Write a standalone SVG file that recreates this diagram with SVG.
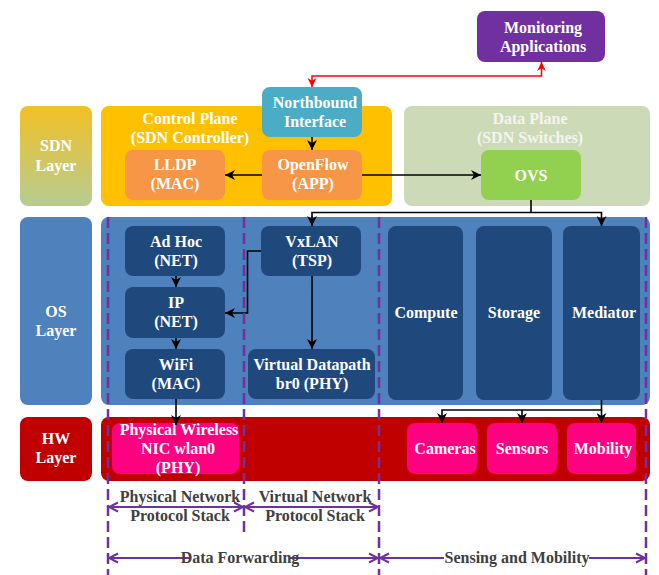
<svg xmlns="http://www.w3.org/2000/svg" width="659" height="575" viewBox="0 0 659 575">
  <defs>
    <linearGradient id="sdnGrad" x1="0" y1="0" x2="0" y2="1">
      <stop offset="0" stop-color="#F1C024"/>
      <stop offset="1" stop-color="#B7CC93"/>
    </linearGradient>
    <marker id="arrBlack" viewBox="0 0 10 10" refX="10" refY="5" markerWidth="10" markerHeight="10" markerUnits="userSpaceOnUse" orient="auto-start-reverse">
      <path d="M0,0 L10,5 L0,10 L3,5 z" fill="#000"/>
    </marker>
    <marker id="arrRed" viewBox="0 0 10 10" refX="10" refY="5" markerWidth="9" markerHeight="9" markerUnits="userSpaceOnUse" orient="auto-start-reverse">
      <path d="M0,0 L10,5 L0,10 L3,5 z" fill="#FF0000"/>
    </marker>
    <marker id="arrPurple" viewBox="-1 -1 12 12" refX="10" refY="5" markerWidth="12" markerHeight="12" markerUnits="userSpaceOnUse" orient="auto-start-reverse">
      <path d="M1,0.5 L10,5 L1,9.5" fill="none" stroke="#7030A0" stroke-width="2"/>
    </marker>
  </defs>
  <style>
    text { font-family: "Liberation Serif", "Times New Roman", serif; font-weight: bold; font-size: 16px; text-anchor: middle; }
    .w { fill: #FFFFFF; }
    .dim { fill: #404040; }
    .dp { fill: #F4F4EE; }
    .conn { fill: none; stroke: #000; stroke-width: 1.6; }
    .red { fill: none; stroke: #FF0000; stroke-width: 1.5; }
    .dash { fill: none; stroke: #7030A0; stroke-width: 2.5; stroke-dasharray: 11 5; }
    .span { fill: none; stroke: #7030A0; stroke-width: 2; }
  </style>

  <!-- layer labels -->
  <g id="sdn-layer">
    <rect x="20" y="106" width="72" height="100" rx="8" fill="url(#sdnGrad)"/>
    <text class="w" x="56" y="151">SDN</text>
    <text class="w" x="56" y="171">Layer</text>
  </g>
  <g id="os-layer">
    <rect x="20" y="217" width="72" height="188" rx="8" fill="#4F81BD"/>
    <text class="w" x="56" y="317">OS</text>
    <text class="w" x="56" y="336">Layer</text>
  </g>
  <g id="hw-layer">
    <rect x="20" y="417" width="72" height="64" rx="8" fill="#C00000"/>
    <text class="w" x="56" y="444">HW</text>
    <text class="w" x="56" y="463">Layer</text>
  </g>

  <!-- SDN layer panels -->
  <g id="control-plane">
    <rect x="101" y="106" width="291" height="100" rx="8" fill="#FFC000"/>
    <text class="w" x="190" y="124">Control Plane</text>
    <text class="w" x="190" y="143">(SDN Controller)</text>
  </g>
  <g id="data-plane">
    <rect x="404" y="106" width="246" height="100" rx="8" fill="#CDDAB8"/>
    <text class="dp" x="530" y="124">Data Plane</text>
    <text class="dp" x="530" y="143">(SDN Switches)</text>
  </g>
  <g id="monitoring-applications">
    <rect x="477" y="11" width="128" height="51" rx="8" fill="#7030A0"/>
    <text class="w" x="543" y="33">Monitoring</text>
    <text class="w" x="543" y="52">Applications</text>
  </g>
  <g id="northbound-interface">
    <rect x="262" y="87" width="100" height="50" rx="8" fill="#4BACC6"/>
    <text class="w" x="315" y="108">Northbound</text>
    <text class="w" x="315" y="127">Interface</text>
  </g>
  <g id="lldp">
    <rect x="125" y="150" width="100" height="50" rx="8" fill="#F79646"/>
    <text class="w" x="175" y="170">LLDP</text>
    <text class="w" x="175" y="189">(MAC)</text>
  </g>
  <g id="openflow">
    <rect x="262" y="150" width="100" height="50" rx="8" fill="#F79646"/>
    <text class="w" x="313" y="170">OpenFlow</text>
    <text class="w" x="313" y="189">(APP)</text>
  </g>
  <g id="ovs">
    <rect x="481" y="150" width="100" height="50" rx="8" fill="#92D050"/>
    <text class="w" x="531" y="181">OVS</text>
  </g>

  <!-- OS layer -->
  <g id="os-panel">
    <rect x="101" y="217" width="549" height="188" rx="8" fill="#4F81BD"/>
  </g>
  <g id="ad-hoc">
    <rect x="125" y="226" width="100" height="50" rx="8" fill="#1F497D"/>
    <text class="w" x="176" y="247">Ad Hoc</text>
    <text class="w" x="176" y="266">(NET)</text>
  </g>
  <g id="ip">
    <rect x="125" y="287" width="100" height="51" rx="8" fill="#1F497D"/>
    <text class="w" x="176" y="308">IP</text>
    <text class="w" x="176" y="327">(NET)</text>
  </g>
  <g id="wifi">
    <rect x="125" y="349" width="100" height="50" rx="8" fill="#1F497D"/>
    <text class="w" x="176" y="370">WiFi</text>
    <text class="w" x="176" y="389">(MAC)</text>
  </g>
  <g id="vxlan">
    <rect x="261" y="226" width="100" height="50" rx="8" fill="#1F497D"/>
    <text class="w" x="312" y="247">VxLAN</text>
    <text class="w" x="312" y="266">(TSP)</text>
  </g>
  <g id="virtual-datapath">
    <rect x="248" y="349" width="127" height="50" rx="8" fill="#1F497D"/>
    <text class="w" x="312" y="370">Virtual Datapath</text>
    <text class="w" x="312" y="389">br0 (PHY)</text>
  </g>
  <g id="compute">
    <rect x="388" y="226" width="75" height="174" rx="8" fill="#1F497D"/>
    <text class="w" x="426" y="318">Compute</text>
  </g>
  <g id="storage">
    <rect x="476" y="226" width="76" height="174" rx="8" fill="#1F497D"/>
    <text class="w" x="514" y="318">Storage</text>
  </g>
  <g id="mediator">
    <rect x="563" y="226" width="77" height="174" rx="8" fill="#1F497D"/>
    <text class="w" x="604" y="318">Mediator</text>
  </g>

  <!-- HW layer -->
  <g id="hw-panel">
    <rect x="101" y="417" width="549" height="64" rx="8" fill="#C00000"/>
  </g>
  <g id="physical-wireless-nic">
    <rect x="112" y="423" width="127" height="51" rx="8" fill="#FF0080"/>
    <text class="w" x="179" y="435">Physical Wireless</text>
    <text class="w" x="178" y="454">NIC wlan0</text>
    <text class="w" x="178" y="473">(PHY)</text>
  </g>
  <g id="cameras">
    <rect x="407" y="423" width="70" height="51" rx="8" fill="#FF0080"/>
    <text class="w" x="445" y="454">Cameras</text>
  </g>
  <g id="sensors">
    <rect x="487" y="423" width="70" height="51" rx="8" fill="#FF0080"/>
    <text class="w" x="522" y="454">Sensors</text>
  </g>
  <g id="mobility">
    <rect x="567" y="423" width="69" height="51" rx="8" fill="#FF0080"/>
    <text class="w" x="603" y="454">Mobility</text>
  </g>

  <!-- connectors -->
  <g id="connectors">
    <path class="red" d="M312,87 V76 H541.5 V62" marker-start="url(#arrRed)" marker-end="url(#arrRed)"/>
    <path class="conn" d="M312,137 V150" marker-end="url(#arrBlack)"/>
    <path class="conn" stroke-width="2" d="M262,175 H225" marker-end="url(#arrBlack)"/>
    <path class="conn" stroke-width="2" d="M362,175 H481" marker-end="url(#arrBlack)"/>
    <path class="conn" d="M531,200 V212.5"/>
    <path class="conn" d="M531,212.5 H312 V226" marker-end="url(#arrBlack)"/>
    <path class="conn" d="M531,212.5 H601.5 V226" marker-end="url(#arrBlack)"/>
    <path class="conn" d="M176,276 V287" marker-end="url(#arrBlack)"/>
    <path class="conn" d="M176,338 V349" marker-end="url(#arrBlack)"/>
    <path class="conn" d="M261,251 H247.5 V313 H225" marker-end="url(#arrBlack)"/>
    <path class="conn" d="M312,276 V349" marker-end="url(#arrBlack)"/>
    <path class="conn" d="M176,399 V425" marker-end="url(#arrBlack)"/>
    <path class="conn" d="M601.5,400 V410 H442 V423" marker-end="url(#arrBlack)"/>
    <path class="conn" d="M522,410 V423" marker-end="url(#arrBlack)"/>
    <path class="conn" d="M601.5,410 V423" marker-end="url(#arrBlack)"/>
  </g>

  <!-- stack boundaries -->
  <g id="boundaries">
    <path class="dash" d="M108,217 V575"/>
    <path class="dash" d="M244,217 V532"/>
    <path class="dash" d="M379,217 V575"/>
    <path class="dash" d="M646,217 V575"/>
  </g>

  <!-- extent labels -->
  <g id="physical-network-stack">
    <path class="span" d="M109,507 H243" marker-start="url(#arrPurple)" marker-end="url(#arrPurple)"/>
    <text class="dim" x="180" y="502">Physical Network</text>
    <text class="dim" x="180" y="521">Protocol Stack</text>
  </g>
  <g id="virtual-network-stack">
    <path class="span" d="M245,507 H378" marker-start="url(#arrPurple)" marker-end="url(#arrPurple)"/>
    <text class="dim" x="315" y="502">Virtual Network</text>
    <text class="dim" x="315" y="521">Protocol Stack</text>
  </g>
  <g id="data-forwarding">
    <path class="span" d="M109,558 H190 M289,558 H378" marker-start="url(#arrPurple)" marker-end="url(#arrPurple)"/>
    <text class="dim" x="240" y="563">Data Forwarding</text>
  </g>
  <g id="sensing-and-mobility">
    <path class="span" d="M380,558 H444 M589,558 H645" marker-start="url(#arrPurple)" marker-end="url(#arrPurple)"/>
    <text class="dim" x="517" y="563">Sensing and Mobility</text>
  </g>
</svg>
